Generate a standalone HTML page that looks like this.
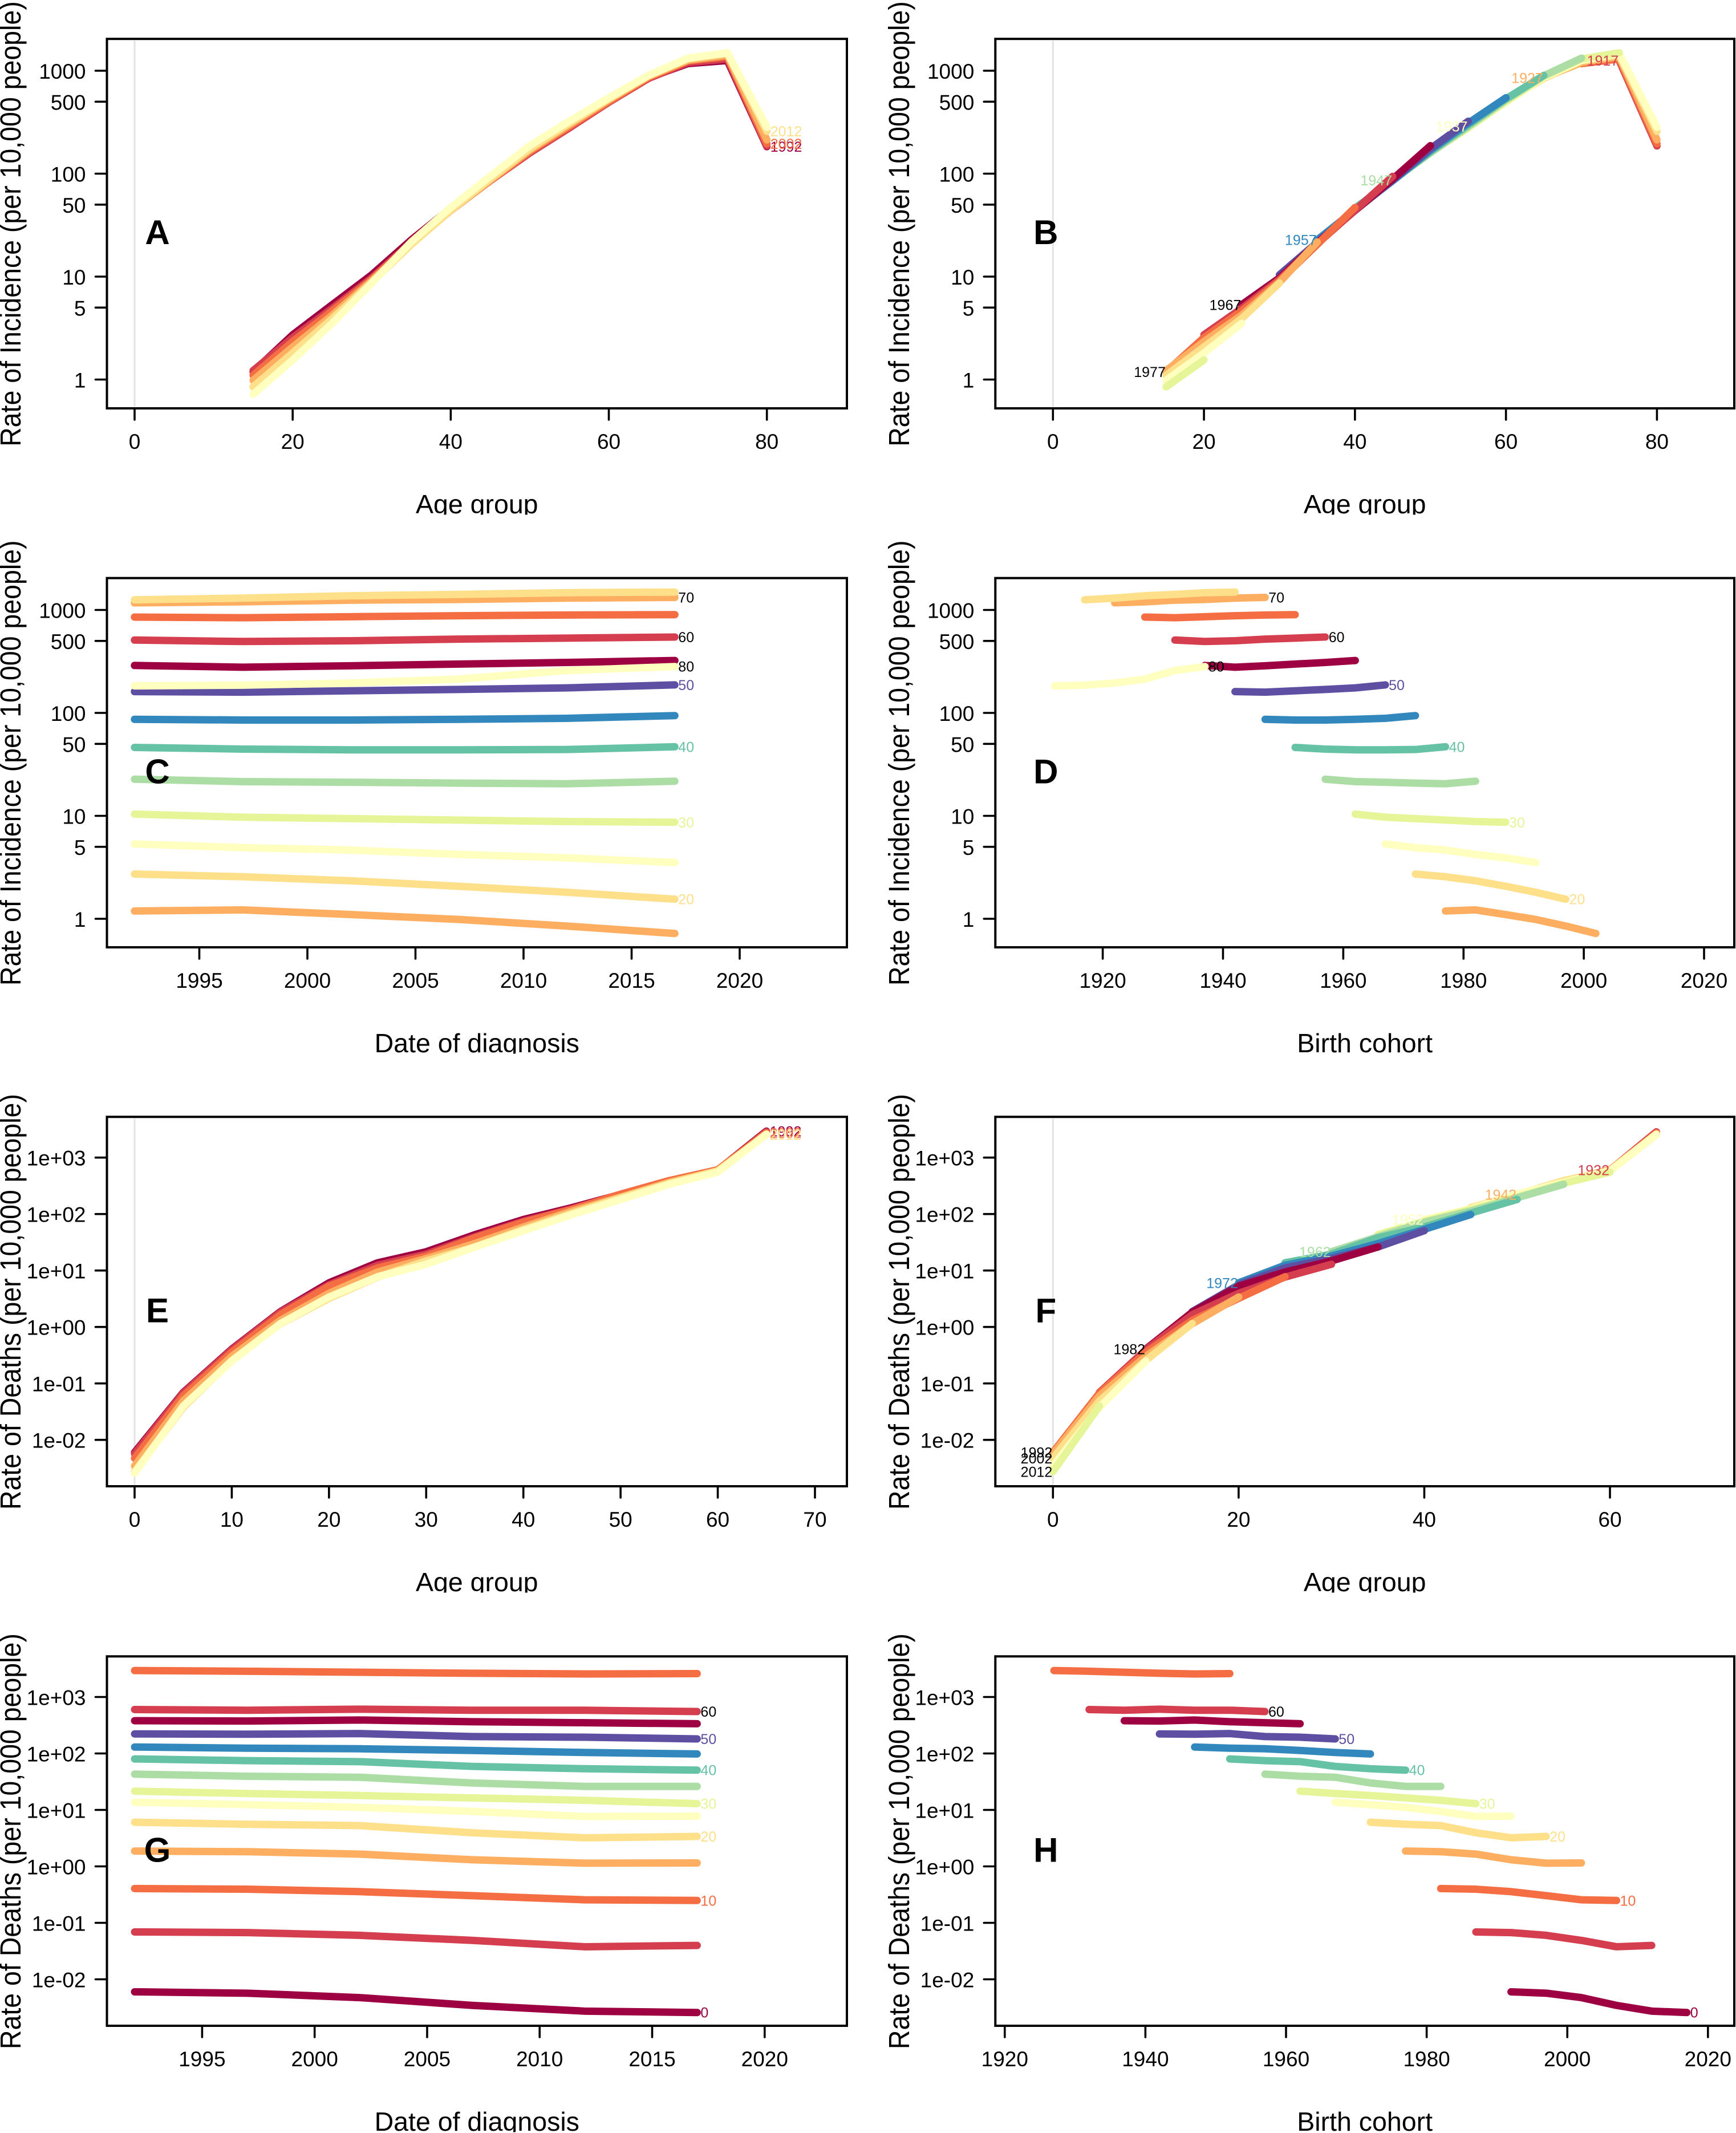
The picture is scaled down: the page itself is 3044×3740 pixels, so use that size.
<!DOCTYPE html>
<html lang="en">
<head>
<meta charset="utf-8">
<title>Age-period-cohort rates of incidence and deaths</title>
<style>
html,body{margin:0;padding:0;background:#fff;}
svg{display:block;}
text{font-family:"Liberation Sans",Arial,Helvetica,sans-serif;fill:#000;}
</style>
</head>
<body>
<svg id="figure" xmlns="http://www.w3.org/2000/svg" width="3044" height="3740" viewBox="0 0 3044 3740">
<rect x="0" y="0" width="3044" height="3740" fill="#fff"/>
</svg>
<script>
// ---------- data ----------
const periods = [1992, 1997, 2002, 2007, 2012, 2017];

const incidenceAges = [15, 20, 25, 30, 35, 40, 45, 50, 55, 60, 65, 70, 75, 80];
const incidenceAge15 = [1.19, 1.22, 1.10, 0.985, 0.85, 0.72];
const incidenceAge20 = [2.72, 2.56, 2.34, 2.07, 1.81, 1.55];
const incidenceAge25 = [5.33, 4.91, 4.65, 4.22, 3.91, 3.52];
const incidenceAge30 = [10.4, 9.7, 9.4, 9.1, 8.8, 8.66];
const incidenceAge35 = [22.7, 21.5, 21.2, 20.8, 20.5, 21.7];
const incidenceAge40 = [46.2, 44.5, 43.8, 43.8, 44.1, 46.9];
const incidenceAge45 = [86.6, 85.3, 85.3, 86.6, 88.6, 94.1];
const incidenceAge50 = [161, 159, 164, 169, 175, 187];
const incidenceAge55 = [289, 278, 287, 298, 309, 323];
const incidenceAge60 = [510, 494, 502, 521, 533, 546];
const incidenceAge65 = [853, 840, 860, 879, 893, 900];
const incidenceAge70 = [1172, 1200, 1245, 1265, 1303, 1324];
const incidenceAge75 = [1255, 1303, 1374, 1416, 1472, 1493];
const incidenceAge80 = [183, 186, 195, 213, 258, 282];

const deathAges = [0, 5, 10, 15, 20, 25, 30, 35, 40, 45, 50, 55, 60, 65];
const deathAge0 = [0.0060, 0.00568, 0.00474, 0.00345, 0.00273, 0.00258];
const deathAge5 = [0.069, 0.0672, 0.0601, 0.0489, 0.0377, 0.0398];
const deathAge10 = [0.405, 0.394, 0.357, 0.303, 0.256, 0.249];
const deathAge15 = [1.87, 1.82, 1.65, 1.31, 1.14, 1.15];
const deathAge20 = [6.05, 5.57, 5.27, 3.94, 3.21, 3.39];
const deathAge25 = [13.7, 12.4, 11.1, 9.4, 7.65, 7.76];
const deathAge30 = [21.5, 19.5, 18.0, 16.3, 14.8, 12.9];
const deathAge35 = [43, 39.5, 37.9, 30, 26.1, 26.1];
const deathAge40 = [80, 74.6, 71.6, 59, 53.6, 50.7];
const deathAge45 = [130, 124, 121, 113, 104, 98];
const deathAge50 = [222, 219, 225, 199, 194, 181];
const deathAge55 = [380, 375, 391, 365, 350, 336];
const deathAge60 = [600, 583, 608, 583, 583, 552];
const deathAge65 = [2938, 2858, 2742, 2630, 2559, 2594];

const incidenceTicks = [1, 5, 10, 50, 100, 500, 1000];
const incidenceTickLabels = ['1', '5', '10', '50', '100', '500', '1000'];
const deathTicks = [0.01, 0.1, 1, 10, 100, 1000];
const deathTickLabels = ['1e-02', '1e-01', '1e+00', '1e+01', '1e+02', '1e+03'];

const ageTicksIncidence = [0, 20, 40, 60, 80];
const ageTicksDeathsE = [0, 10, 20, 30, 40, 50, 60, 70];
const ageTicksDeathsF = [0, 20, 40, 60];
const diagnosisTicks = [1995, 2000, 2005, 2010, 2015, 2020];
const cohortTicks = [1920, 1940, 1960, 1980, 2000, 2020];

const labelledPeriods = [1992, 2002, 2012];
const labelledAgesIncidence = [20, 30, 40, 50, 60, 70, 80];
const labelledAgesDeaths = [0, 10, 20, 30, 40, 50, 60];
const labelledCohortsIncidence = [1917, 1927, 1937, 1947, 1957, 1967, 1977];
const labelledCohortsDeaths = [1932, 1942, 1952, 1962, 1972, 1982, 1992, 2002, 2012];

const spectral = ['#9E0142', '#D53E4F', '#F46D43', '#FDAE61', '#FEE08B', '#FFFFBF', '#E6F598', '#ABDDA4', '#66C2A5', '#3288BD', '#5E4FA2'];

const incidenceRows = [incidenceAge15, incidenceAge20, incidenceAge25, incidenceAge30, incidenceAge35, incidenceAge40, incidenceAge45, incidenceAge50, incidenceAge55, incidenceAge60, incidenceAge65, incidenceAge70, incidenceAge75, incidenceAge80];
const deathRows = [deathAge0, deathAge5, deathAge10, deathAge15, deathAge20, deathAge25, deathAge30, deathAge35, deathAge40, deathAge45, deathAge50, deathAge55, deathAge60, deathAge65];

// ---------- helpers ----------
const NS = 'http://www.w3.org/2000/svg';
const root = document.getElementById('figure');

function make(parent, tag, attrs, name, text) {
  const el = document.createElementNS(NS, tag);
  for (const k in attrs) el.setAttribute(k, attrs[k]);
  
  
  if (text !== undefined) el.textContent = text;
  parent.appendChild(el);
  return el;
}
function linScale(v1, p1, v2, p2) {
  return v => p1 + (v - v1) * (p2 - p1) / (v2 - v1);
}
function logScale(oneAt, decade) {
  return v => oneAt - decade * Math.log10(v);
}
function labelColor(index) {
  return index < spectral.length ? spectral[index] : '#000';
}
function drawLine(g, pts, color, name) {
  if (pts.length < 2) return;
  const d = pts.map((p, i) => (i ? 'L' : 'M') + p[0].toFixed(2) + ' ' + p[1].toFixed(2)).join(' ');
  make(g, 'path', {d: d, fill: 'none', stroke: color, 'stroke-width': 13, 'stroke-linecap': 'round', 'stroke-linejoin': 'round'}, name);
}
function drawValueLabel(g, x, y, text, color, anchor, name) {
  make(g, 'text', {x: x, y: y + 9, 'font-size': 25, 'text-anchor': anchor, style: 'fill:' + color}, name, text);
}

// ---------- panel frame ----------
function frame(cfg) {
  const g = make(root, 'g', {}, 'panel-' + cfg.letter.toLowerCase());
  cfg.g = g;
  const {left, right, top, bottom} = cfg;
  if (cfg.zeroLine) {
    const zx = cfg.x(0);
    make(g, 'line', {x1: zx, x2: zx, y1: top + 3, y2: bottom - 3, stroke: '#e3e3e3', 'stroke-width': 3}, 'zero-reference-line');
  }
  cfg.draw(g);
  make(g, 'rect', {x: left, y: top, width: right - left, height: bottom - top, fill: 'none', stroke: '#000', 'stroke-width': 4}, 'plot-border');

  const xAxis = make(g, 'g', {}, 'x-axis');
  cfg.xTicks.forEach(v => {
    const px = cfg.x(v);
    make(xAxis, 'line', {x1: px, x2: px, y1: bottom, y2: bottom + 20, stroke: '#000', 'stroke-width': 3.6, 'stroke-linecap': 'round'}, 'x-tick');
    make(xAxis, 'text', {x: px, y: bottom + 71, 'font-size': 37, 'text-anchor': 'middle'}, 'x-tick-label', String(v));
  });
  const yAxis = make(g, 'g', {}, 'y-axis');
  cfg.yTicks.forEach((v, i) => {
    const py = cfg.y(v);
    make(yAxis, 'line', {x1: left - 20, x2: left, y1: py, y2: py, stroke: '#000', 'stroke-width': 3.6, 'stroke-linecap': 'round'}, 'y-tick');
    make(yAxis, 'text', {x: left - 37, y: py + 14, 'font-size': 37, 'text-anchor': 'end'}, 'y-tick-label', cfg.yLabels[i]);
  });

  const clipId = 'title-clip-' + cfg.letter;
  const defs = make(g, 'clipPath', {id: clipId}, 'x-title-clip');
  make(defs, 'rect', {x: left, y: bottom + 100, width: right - left, height: 86.5}, 'x-title-clip-area');
  make(g, 'text', {x: (left + right) / 2, y: bottom + 184, 'font-size': 46.5, 'text-anchor': 'middle', 'clip-path': 'url(#' + clipId + ')'}, 'x-axis-title', cfg.xTitle);
  const ty = (top + bottom) / 2 + 0.5;
  const tx = left - 151.5;
  make(g, 'text', {x: 0, y: 0, 'font-size': 46.5, 'text-anchor': 'middle', transform: 'translate(' + tx + ' ' + ty + ') rotate(-90) scale(1 1.1)'}, 'y-axis-title', cfg.yTitle);
  make(g, 'text', {x: left + 88.5, y: top + 360, 'font-size': 60, 'font-weight': 'bold', 'text-anchor': 'middle'}, 'panel-letter', cfg.letter);
}

// ---------- views of the age x period table ----------
function drawByPeriod(cfg, ages, rows) {
  return g => {
    periods.forEach((p, j) => {
      const pts = ages.map((a, i) => [cfg.x(a), cfg.y(rows[i][j])]);
      drawLine(g, pts, spectral[j % 11], 'line-period-' + p);
    });
    labelledPeriods.forEach(p => {
      const j = periods.indexOf(p);
      const last = ages.length - 1;
      drawValueLabel(g, cfg.x(ages[last]) + 6, cfg.y(rows[last][j]), String(p), labelColor(j), 'start', 'label-period-' + p);
    });
  };
}
function cohortPoints(ages, rows, c) {
  const pts = [];
  ages.forEach((a, i) => {
    const j = periods.indexOf(c + a);
    if (j >= 0) pts.push({age: a, value: rows[i][j]});
  });
  return pts;
}
function cohortList(ages) {
  const first = periods[0] - ages[ages.length - 1];
  const last = periods[periods.length - 1] - ages[0];
  const list = [];
  for (let c = first; c <= last; c += 5) list.push(c);
  return list;
}
function drawByCohort(cfg, ages, rows, labelled) {
  return g => {
    const list = cohortList(ages);
    list.forEach((c, k) => {
      const pts = cohortPoints(ages, rows, c).map(d => [cfg.x(d.age), cfg.y(d.value)]);
      drawLine(g, pts, spectral[k % 11], 'line-cohort-' + c);
    });
    labelled.forEach(c => {
      const pts = cohortPoints(ages, rows, c);
      if (!pts.length) return;
      drawValueLabel(g, cfg.x(pts[0].age) - 1, cfg.y(pts[0].value), String(c), labelColor(list.indexOf(c)), 'end', 'label-cohort-' + c);
    });
  };
}
function drawAcrossPeriods(cfg, ages, rows, labelled, toX) {
  return g => {
    ages.forEach((a, i) => {
      const pts = periods.map((p, j) => [cfg.x(toX(p, a)), cfg.y(rows[i][j])]);
      drawLine(g, pts, spectral[(a / 5) % 11], 'line-age-' + a);
    });
    labelled.forEach(a => {
      const i = ages.indexOf(a);
      const j = periods.length - 1;
      drawValueLabel(g, cfg.x(toX(periods[j], a)) + 6, cfg.y(rows[i][j]), String(a), labelColor(a / 5), 'start', 'label-age-' + a);
    });
  };
}

// ---------- panels ----------
const incidenceTitle = 'Rate of Incidence (per 10,000 people)';
const deathsTitle = 'Rate of Deaths (per 10,000 people)';
const leftCol = {left: 187.5, right: 1485};
const rightCol = {left: 1745.3, right: 3041};

const panelA = Object.assign({letter: 'A', top: 68.2, bottom: 716, xTitle: 'Age group', yTitle: incidenceTitle, zeroLine: true, xTicks: ageTicksIncidence, yTicks: incidenceTicks, yLabels: incidenceTickLabels, x: linScale(0, 236, 80, 1344.7), y: logScale(665.5, 180.5)}, leftCol);
panelA.draw = drawByPeriod(panelA, incidenceAges, incidenceRows);

const panelB = Object.assign({letter: 'B', top: 68.2, bottom: 716, xTitle: 'Age group', yTitle: incidenceTitle, zeroLine: true, xTicks: ageTicksIncidence, yTicks: incidenceTicks, yLabels: incidenceTickLabels, x: linScale(0, 1846.3, 80, 2905.4), y: logScale(665.5, 180.5)}, rightCol);
panelB.draw = drawByCohort(panelB, incidenceAges, incidenceRows, labelledCohortsIncidence);

const panelC = Object.assign({letter: 'C', top: 1013.6, bottom: 1661, xTitle: 'Date of diagnosis', yTitle: incidenceTitle, xTicks: diagnosisTicks, yTicks: incidenceTicks, yLabels: incidenceTickLabels, x: linScale(1995, 349.5, 2020, 1297), y: logScale(1611, 180.5)}, leftCol);
panelC.draw = drawAcrossPeriods(panelC, incidenceAges, incidenceRows, labelledAgesIncidence, (p, a) => p);

const panelD = Object.assign({letter: 'D', top: 1013.6, bottom: 1661, xTitle: 'Birth cohort', yTitle: incidenceTitle, xTicks: cohortTicks, yTicks: incidenceTicks, yLabels: incidenceTickLabels, x: linScale(1920, 1933.6, 2020, 2988), y: logScale(1611, 180.5)}, rightCol);
panelD.draw = drawAcrossPeriods(panelD, incidenceAges, incidenceRows, labelledAgesIncidence, (p, a) => p - a);

const panelE = Object.assign({letter: 'E', top: 1958.3, bottom: 2606, xTitle: 'Age group', yTitle: deathsTitle, zeroLine: true, xTicks: ageTicksDeathsE, yTicks: deathTicks, yLabels: deathTickLabels, x: linScale(0, 236, 70, 1429), y: logScale(2326.7, 99)}, leftCol);
panelE.draw = drawByPeriod(panelE, deathAges, deathRows);

const panelF = Object.assign({letter: 'F', top: 1958.3, bottom: 2606, xTitle: 'Age group', yTitle: deathsTitle, zeroLine: true, xTicks: ageTicksDeathsF, yTicks: deathTicks, yLabels: deathTickLabels, x: linScale(0, 1846.3, 60, 2823), y: logScale(2326.7, 99)}, rightCol);
panelF.draw = drawByCohort(panelF, deathAges, deathRows, labelledCohortsDeaths);

const panelG = Object.assign({letter: 'G', top: 2904.3, bottom: 3552, xTitle: 'Date of diagnosis', yTitle: deathsTitle, xTicks: diagnosisTicks, yTicks: deathTicks, yLabels: deathTickLabels, x: linScale(1995, 354.4, 2020, 1340.8), y: logScale(3272.5, 99)}, leftCol);
panelG.draw = drawAcrossPeriods(panelG, deathAges, deathRows, labelledAgesDeaths, (p, a) => p);

const panelH = Object.assign({letter: 'H', top: 2904.3, bottom: 3552, xTitle: 'Birth cohort', yTitle: deathsTitle, xTicks: cohortTicks, yTicks: deathTicks, yLabels: deathTickLabels, x: linScale(1920, 1761.8, 2020, 2994.8), y: logScale(3272.5, 99)}, rightCol);
panelH.draw = drawAcrossPeriods(panelH, deathAges, deathRows, labelledAgesDeaths, (p, a) => p - a);

[panelA, panelB, panelC, panelD, panelE, panelF, panelG, panelH].forEach(frame);
</script>
</body>
</html>
